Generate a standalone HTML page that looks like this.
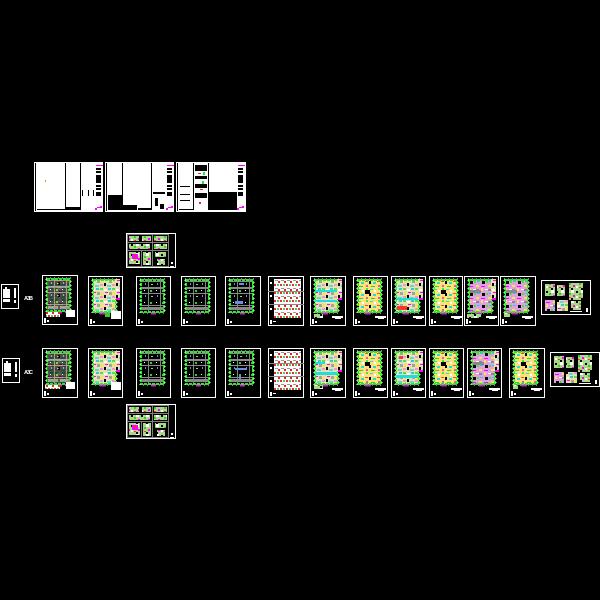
<!DOCTYPE html>
<html><head><meta charset="utf-8"><style>html,body{margin:0;padding:0;background:#000}svg{display:block}</style></head><body>
<svg xmlns="http://www.w3.org/2000/svg" width="600" height="600" viewBox="0 0 600 600" shape-rendering="crispEdges">
<defs>
<pattern id="st" width="12" height="12" patternUnits="userSpaceOnUse"><rect width="12" height="12" fill="#000"/><rect x="0" width="1" height="12" fill="#7a8a7a"/><rect y="5" width="12" height="1" fill="#8a8a8a"/><rect x="2" y="2" width="2" height="2" fill="#3c3"/><rect x="9" y="7" width="1" height="2" fill="#6a8fe0"/><rect x="3" y="8" width="2" height="1" fill="#9c9"/><rect x="8" y="2" width="1" height="1" fill="#fff"/></pattern>
<pattern id="c1" width="12" height="12" patternUnits="userSpaceOnUse"><rect width="12" height="12" fill="#e8e0b0"/><rect x="0" y="0" width="3" height="2" fill="#5d5"/><rect x="4" y="1" width="3" height="2" fill="#fff"/><rect x="8" y="0" width="3" height="2" fill="#3cc"/><rect x="1" y="4" width="2" height="3" fill="#f5e642"/><rect x="5" y="4" width="3" height="1" fill="#f0f"/><rect x="9" y="4" width="3" height="3" fill="#9a9"/><rect x="0" y="8" width="3" height="2" fill="#e89ad0"/><rect x="4" y="7" width="2" height="3" fill="#000"/><rect x="7" y="9" width="4" height="2" fill="#5dd"/></pattern>
<pattern id="c2" width="12" height="12" patternUnits="userSpaceOnUse"><rect width="12" height="12" fill="#fbe27a"/><rect x="1" y="0" width="2" height="2" fill="#3e3"/><rect x="5" y="1" width="3" height="1" fill="#2dd"/><rect x="9" y="2" width="2" height="2" fill="#fff"/><rect x="0" y="5" width="3" height="1" fill="#f44"/><rect x="4" y="5" width="2" height="3" fill="#000"/><rect x="8" y="6" width="3" height="2" fill="#2dd"/><rect x="1" y="9" width="2" height="2" fill="#e5a"/><rect x="6" y="10" width="4" height="1" fill="#3c3"/></pattern>
<pattern id="c3" width="12" height="12" patternUnits="userSpaceOnUse"><rect width="12" height="12" fill="#e3a0e0"/><rect x="0" y="1" width="3" height="2" fill="#888"/><rect x="5" y="0" width="2" height="3" fill="#f8e060"/><rect x="9" y="1" width="3" height="1" fill="#fff"/><rect x="1" y="5" width="3" height="1" fill="#2ce"/><rect x="6" y="5" width="3" height="3" fill="#000"/><rect x="10" y="5" width="2" height="2" fill="#3e3"/><rect x="0" y="9" width="3" height="2" fill="#f5e642"/><rect x="5" y="10" width="4" height="1" fill="#f0f"/></pattern>
<pattern id="c4" width="10" height="10" patternUnits="userSpaceOnUse"><rect width="10" height="10" fill="#a8d888"/><rect x="0" y="0" width="3" height="3" fill="#fff"/><rect x="5" y="1" width="2" height="2" fill="#000"/><rect x="8" y="3" width="2" height="2" fill="#3c3"/><rect x="2" y="5" width="2" height="2" fill="#f0f"/><rect x="5" y="6" width="2" height="2" fill="#fff"/><rect x="8" y="7" width="2" height="1" fill="#f33"/><rect x="0" y="8" width="2" height="2" fill="#000"/></pattern>
<pattern id="r6" width="6" height="8" patternUnits="userSpaceOnUse"><rect width="6" height="8" fill="#fff"/><rect x="0" y="0" width="2" height="2" fill="#d33"/><rect x="3" y="0" width="2" height="2" fill="#6b6"/><rect x="1" y="4" width="3" height="1" fill="#999"/><rect x="4" y="5" width="2" height="2" fill="#e22"/></pattern>

<g id="tb"><rect x="2" y="43" width="2" height="5" fill="#fff"/><rect x="5" y="45" width="2" height="2" fill="#fff"/></g>
<g id="peri" fill="none"><rect x="5" y="4" width="23" height="32" stroke="#2e2" stroke-width="2" stroke-dasharray="3 1"/><rect x="4" y="3" width="25" height="34" stroke="#fff" stroke-width="1" stroke-dasharray="1 3"/></g>
<g id="st1"><rect x="5" y="4" width="23" height="32" fill="url(#st)"/><rect x="5" y="11" width="23" height="2" fill="#8a8a8a"/><rect x="5" y="31" width="23" height="3" fill="#888"/><use href="#peri"/><rect x="15" y="37" width="5" height="1.5" fill="#f0f"/><use href="#tb"/></g>
<g id="note"><rect x="22" y="40" width="11" height="2" fill="#fff"/><rect x="25" y="42" width="6" height="1" fill="#fff"/></g>
<g id="pA"><rect x="5" y="4" width="23" height="32" fill="url(#c1)"/><use href="#peri"/><rect x="12" y="37" width="6" height="1.5" fill="#f0f"/><use href="#tb"/></g>
<g id="pB"><rect x="5" y="4" width="23" height="32" fill="url(#c2)"/><rect x="12" y="14" width="5" height="4" fill="#000"/><use href="#peri"/><rect x="12" y="37" width="6" height="1.5" fill="#f0f"/><use href="#tb"/><use href="#note"/></g>
<g id="pC"><rect x="5" y="4" width="23" height="32" fill="url(#c3)"/><rect x="5" y="14" width="12" height="3" fill="#888"/><use href="#peri"/><rect x="12" y="37" width="6" height="1.5" fill="#f0f"/><use href="#tb"/><use href="#note"/></g>
<g id="side"><rect x="27" y="3" width="5" height="20" fill="url(#c1)"/><rect x="28" y="22" width="4" height="2" fill="#f0f"/></g>
<g id="sh6"><rect x="6" y="3" width="27" height="39" fill="url(#r6)"/><rect x="0" y="15" width="36" height="1" fill="#8a8a8a"/><rect x="0" y="28" width="36" height="1" fill="#8a8a8a"/><rect x="2" y="6" width="2" height="2" fill="#fff"/><rect x="2" y="19" width="2" height="2" fill="#fff"/><rect x="2" y="32" width="2" height="2" fill="#fff"/><rect x="2" y="44" width="2" height="4" fill="#fff"/><rect x="5" y="45" width="3" height="1" fill="#fff"/></g>
<g id="wide"><rect x="4" y="4" width="10" height="12" fill="url(#c4)"/><rect x="16" y="5" width="8" height="11" fill="url(#c4)"/><rect x="28" y="3" width="14" height="17" fill="url(#c4)"/><rect x="4" y="20" width="10" height="11" fill="url(#c3)"/><rect x="16" y="20" width="11" height="11" fill="url(#c1)"/><rect x="30" y="21" width="10" height="9" fill="url(#c4)"/><rect x="29" y="31" width="12" height="1" fill="#fff"/><rect x="45" y="28" width="2" height="4" fill="#fff"/></g>
<g id="mid"><rect x="3" y="3" width="10" height="5" fill="url(#c4)"/><rect x="16" y="3" width="9" height="5" fill="url(#c4)"/><rect x="28" y="3" width="13" height="5" fill="url(#c4)"/><rect x="3" y="11" width="21" height="5" fill="url(#c4)"/><rect x="28" y="11" width="13" height="5" fill="url(#c4)"/><rect x="3" y="19" width="11" height="12" fill="url(#c4)"/><rect x="17" y="19" width="8" height="13" fill="url(#c4)"/><rect x="29" y="19" width="11" height="5" fill="url(#c4)"/><rect x="31" y="26" width="8" height="6" fill="url(#c4)"/><g fill="#808080"><rect x="1" y="1" width="42" height="1"/><rect x="1" y="33" width="42" height="1"/><rect x="1" y="1" width="1" height="33"/><rect x="42" y="1" width="1" height="33"/><rect x="1" y="9" width="42" height="1"/><rect x="1" y="17" width="42" height="1"/><rect x="26" y="1" width="1" height="33"/><rect x="15" y="17" width="1" height="17"/></g><rect x="6" y="21" width="6" height="5" fill="#f0f"/><rect x="8" y="22" width="2" height="2" fill="#e33"/><rect x="45" y="29" width="2" height="2" fill="#fff"/><rect x="44" y="33" width="4" height="1" fill="#fff"/></g>
<g id="col"><rect x="62" y="3" width="7" height="1" fill="#f0f"/><g fill="#000"><rect x="62" y="6" width="5" height="2"/><rect x="62" y="9" width="5" height="2"/><rect x="62" y="13" width="5" height="8"/><rect x="62" y="23" width="5" height="2"/><rect x="62" y="26" width="5" height="2"/><rect x="62" y="30" width="5" height="4"/></g><g fill="#f0f"><rect x="61" y="46" width="2" height="2"/><rect x="63" y="45" width="3" height="1"/><rect x="66" y="44" width="2" height="2"/></g></g>
<g id="small"><rect x=".5" y=".5" width="17" height="24" fill="#000" stroke="#fff"/><rect x="2" y="5" width="7" height="9" fill="#fff"/><rect x="4" y="3" width="2" height="2" fill="#fff"/><rect x="13" y="4" width="2" height="10" fill="#fff"/><rect x="2" y="15" width="7" height="3" fill="#fff"/><rect x="13" y="16" width="2" height="3" fill="#fff"/></g>
</defs>
<rect width="600" height="600" fill="#000"/>

<!-- top sheets -->
<g transform="translate(34,162)"><rect width="69" height="50" fill="#fff"/><g fill="#000"><rect x="1" y="1" width="1" height="48"/><rect x="31" y="1" width="1" height="47"/><rect x="46" y="1" width="1" height="47"/><rect x="3" y="47" width="28" height="1"/><rect x="32" y="45" width="14" height="3"/><rect x="48" y="28" width="1" height="6"/><rect x="54" y="28" width="1" height="6"/><rect x="59" y="28" width="1" height="6"/></g><rect x="11" y="18" width="1" height="2" fill="#f80"/><use href="#col"/></g>
<g transform="translate(105,162)"><rect width="69" height="50" fill="#fff"/><g fill="#000"><rect x="1" y="1" width="1" height="48"/><rect x="17" y="1" width="1" height="47"/><rect x="46" y="1" width="1" height="47"/><rect x="3" y="33" width="14" height="15"/><rect x="18" y="43" width="14" height="5"/><rect x="33" y="46" width="13" height="2"/><rect x="48" y="30" width="12" height="2"/><rect x="50" y="36" width="3" height="8"/><rect x="55" y="42" width="4" height="5"/></g><use href="#col"/></g>
<g transform="translate(176,162)"><rect width="70" height="50" fill="#fff"/><g fill="#000"><rect x="1" y="1" width="1" height="48"/><rect x="17" y="1" width="1" height="47"/><rect x="32" y="1" width="1" height="47"/><rect x="3" y="47" width="14" height="1"/><rect x="33" y="30" width="28" height="18"/><rect x="19" y="3" width="12" height="6"/><rect x="19" y="14" width="12" height="3"/><rect x="19" y="22" width="12" height="4"/><rect x="19" y="31" width="12" height="5"/><rect x="4" y="24" width="10" height="1"/><rect x="4" y="32" width="10" height="1"/><rect x="4" y="38" width="10" height="1"/></g><g fill="#e22"><rect x="22" y="11" width="3" height="1"/><rect x="24" y="27" width="3" height="1"/><rect x="23" y="40" width="2" height="2"/></g><rect x="27" y="10" width="2" height="3" fill="#2e2"/><rect x="26" y="19" width="2" height="3" fill="#2e2"/><use href="#col"/></g>

<!-- detail sheets -->
<g transform="translate(126,233)"><rect x=".5" y=".5" width="49" height="34" stroke="#fff" fill="#000"/><use href="#mid"/></g>
<g transform="translate(126,404)"><rect x=".5" y=".5" width="49" height="34" stroke="#fff" fill="#000"/><use href="#mid"/></g>

<!-- small key sheets -->
<use href="#small" transform="translate(1,284)"/>
<use href="#small" transform="translate(2,358)"/>
<text x="24" y="300" font-family="Liberation Sans, sans-serif" font-size="5.5" font-weight="bold" fill="#fff" textLength="9">A3B</text>
<text x="24" y="374" font-family="Liberation Sans, sans-serif" font-size="5.5" font-weight="bold" fill="#fff" textLength="9">A3C</text>

<!-- frames -->
<g fill="#000" stroke="#fff">
<rect x="42.5" y="275.5" width="35" height="49"/><rect x="88.5" y="276.5" width="34" height="49"/><rect x="136.5" y="276.5" width="34" height="49"/><rect x="181.5" y="276.5" width="34" height="49"/><rect x="225.5" y="276.5" width="35" height="49"/><rect x="268.5" y="276.5" width="35" height="49"/><rect x="310.5" y="276.5" width="35" height="49"/><rect x="353.5" y="276.5" width="34" height="49"/><rect x="391.5" y="276.5" width="34" height="49"/><rect x="429.5" y="276.5" width="33" height="49"/><rect x="464.5" y="276.5" width="34" height="49"/><rect x="500.5" y="276.5" width="35" height="49"/><rect x="541.5" y="280.5" width="49" height="34"/>
<rect x="42.5" y="348.5" width="35" height="49"/><rect x="88.5" y="348.5" width="34" height="49"/><rect x="136.5" y="348.5" width="34" height="49"/><rect x="181.5" y="348.5" width="34" height="49"/><rect x="225.5" y="348.5" width="35" height="49"/><rect x="268.5" y="348.5" width="35" height="49"/><rect x="310.5" y="348.5" width="35" height="49"/><rect x="353.5" y="348.5" width="34" height="49"/><rect x="391.5" y="348.5" width="34" height="49"/><rect x="429.5" y="348.5" width="34" height="49"/><rect x="467.5" y="348.5" width="34" height="49"/><rect x="509.5" y="348.5" width="35" height="49"/><rect x="550.5" y="352.5" width="49" height="34"/>
</g>
<g transform="translate(42,275)"><use href="#st1"/><rect x="5" y="5" width="22" height="30" fill="url(#c1)" opacity=".35"/><rect x="4" y="37" width="14" height="5" fill="url(#r6)"/><rect x="24" y="35" width="9" height="7" fill="#fff"/></g>
<g transform="translate(88,276)"><use href="#pA"/><use href="#side"/><rect x="23" y="35" width="10" height="8" fill="#fff"/><rect x="17" y="37" width="5" height="4" fill="#3c3"/></g>
<g transform="translate(136,276)"><use href="#st1"/></g>
<g transform="translate(181,276)"><use href="#st1"/></g>
<g transform="translate(225,276)"><use href="#st1"/><rect x="10" y="25" width="8" height="3" fill="#6a8fe0"/><rect x="14" y="7" width="5" height="2" fill="#6a8fe0"/></g>
<use href="#sh6" transform="translate(268,276)"/>
<g transform="translate(310,276)"><use href="#pA"/><use href="#side"/><rect x="5" y="14" width="22" height="2" fill="#2dd"/><rect x="5" y="24" width="22" height="2" fill="#2dd"/><use href="#note"/><rect x="4" y="38" width="9" height="4" fill="url(#c4)"/></g>
<g transform="translate(353,276)"><use href="#pB"/></g>
<g transform="translate(391,276)"><use href="#pA"/><rect x="5" y="22" width="22" height="2" fill="#2dd"/><rect x="6" y="30" width="10" height="4" fill="#f33"/><use href="#side"/><use href="#note"/></g>
<g transform="translate(429,276)"><use href="#pB"/></g>
<g transform="translate(464,276)"><use href="#pC"/><use href="#side"/><rect x="3" y="38" width="14" height="4" fill="url(#c4)"/></g>
<g transform="translate(500,276)"><use href="#pC"/><rect x="4" y="37" width="6" height="4" fill="url(#c4)"/></g>
<g transform="translate(541,280)"><use href="#wide"/></g>

<!-- row 2 -->
<g transform="translate(42,348)"><use href="#st1"/><rect x="5" y="5" width="22" height="30" fill="url(#c1)" opacity=".35"/><rect x="3" y="37" width="15" height="4" fill="url(#r6)"/><rect x="24" y="34" width="9" height="7" fill="#fff"/></g>
<g transform="translate(88,348)"><use href="#pA"/><use href="#side"/><rect x="23" y="34" width="10" height="8" fill="#fff"/></g>
<g transform="translate(136,348)"><use href="#st1"/></g>
<g transform="translate(181,348)"><use href="#st1"/></g>
<g transform="translate(225,348)"><use href="#st1"/><rect x="10" y="20" width="12" height="2" fill="#6a8fe0"/><rect x="14" y="27" width="2" height="5" fill="#6a8fe0"/></g>
<use href="#sh6" transform="translate(268,348)"/>
<g transform="translate(310,348)"><use href="#pA"/><use href="#side"/><rect x="5" y="14" width="10" height="2" fill="#2dd"/><rect x="5" y="24" width="22" height="3" fill="#2dd"/><use href="#note"/><rect x="4" y="37" width="9" height="4" fill="url(#c4)"/></g>
<g transform="translate(353,348)"><use href="#pB"/></g>
<g transform="translate(391,348)"><use href="#pA"/><rect x="5" y="27" width="22" height="3" fill="#2dd"/><rect x="8" y="8" width="4" height="3" fill="#f33"/><use href="#side"/><use href="#note"/></g>
<g transform="translate(429,348)"><use href="#pB"/></g>
<g transform="translate(467,348)"><use href="#pC"/><use href="#side"/></g>
<g transform="translate(509,348)"><use href="#pB"/><rect x="4" y="37" width="5" height="4" fill="url(#c4)"/></g>
<g transform="translate(550,352)"><use href="#wide"/></g>
</svg>
</body></html>
